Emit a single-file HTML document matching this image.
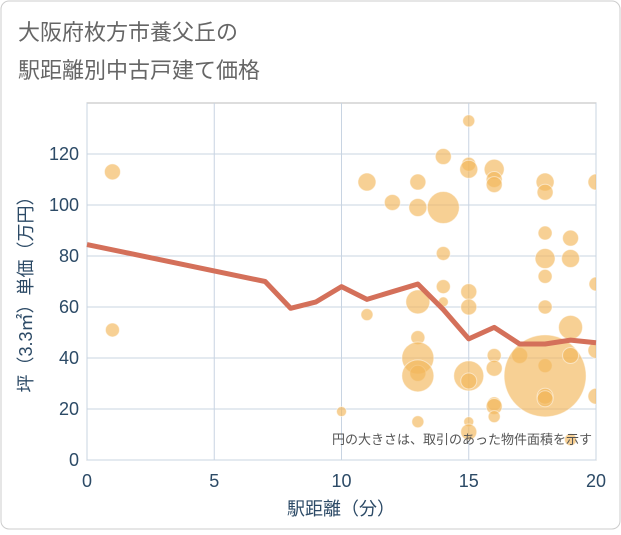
<!DOCTYPE html>
<html><head><meta charset="utf-8"><style>
body{margin:0;background:#fff;}
svg text{font-family:"Liberation Sans","Noto Sans CJK JP",sans-serif;}
</style></head><body>
<svg width="621" height="530" xmlns="http://www.w3.org/2000/svg">
<defs><clipPath id="pc"><rect x="87" y="103" width="509" height="357"/></clipPath></defs>
<rect x="1" y="1" width="619" height="528" rx="8" fill="#fff" stroke="#ccc"/>
<text x="18" y="40" font-size="22" fill="#666">大阪府枚方市養父丘の</text>
<text x="18" y="78" font-size="22" fill="#666">駅距離別中古戸建て価格</text>
<rect x="87" y="103" width="509" height="357" fill="#fff" stroke="#bbb"/>
<g id="grid"></g>
<g id="bubbles" clip-path="url(#pc)"></g>
<g id="line"></g>
<g id="axes"></g>
<text x="592" y="444" font-size="13" fill="#555" text-anchor="end">円の大きさは、取引のあった物件面積を示す</text>
<text x="341" y="515" font-size="18" fill="#2c4a66" text-anchor="middle">駅距離（分）</text>
<text transform="translate(32,290) rotate(-90)" font-size="18" fill="#2c4a66" text-anchor="middle">坪（3.3㎡）単価（万円）</text>
</svg>
<script>
const xTicks=[0,5,10,15,20];
const yTicks=[0,20,40,60,80,100,120];
const bubbleX=[1,1,10,11,11,12,13,13,13,13,13,13,13,13,14,14,14,14,14,15,15,15,15,15,15,15,15,15,16,16,16,16,16,16,16,16,17,18,18,18,18,18,18,18,18,18,18,19,19,19,19,19,20,20,20,20];
const bubbleY=[113,51,19,109,57,101,109,99,62,48,40,34,33,15,119,99,81,68,62,133,116,114,66,60,33,31,15,11,114,110,108,41,36,22,21,17,41,109,105,89,79,72,60,37,33,25,24,87,79,52,41,8,109,69,43,25];
const bubbleSize=[8,7,5,9,6,8,8,9,12,7,16,8,16,6,8,16,7,7,5,6,7,9,8,8,15,8,5,8,10,8,8,7,8,7,8,6,8,9,8,7,10,7,7,7,41,8,8,8,9,12,8,6,8,7,8,8];
const lineX=[0,7,8,9,10,11,12,13,14,15,16,17,18,19,20];
const lineY=[84.5,70,59.5,62,68,63,66,69,59,47.5,52,45.5,45.5,47,46];
const NS='http://www.w3.org/2000/svg';
const X0=87,X1=596,Y0=460,Y1=103;
function sx(v){return X0+(v-0)/20*(X1-X0);}
function sy(v){return Y0-v/140*(Y0-Y1);}
function mk(t,a,p){const e=document.createElementNS(NS,t);for(const k in a)e.setAttribute(k,a[k]);p.appendChild(e);return e;}
const grid=document.getElementById('grid'),axes=document.getElementById('axes');
xTicks.forEach(t=>{
 const l=mk('line',{x1:sx(t),x2:sx(t),y1:Y1,y2:Y0,stroke:'#c8d4e2'},grid);
 
 
 const tx=mk('text',{x:sx(t),y:487,'font-size':18,fill:'#2c4a66','text-anchor':'middle'},axes);
 tx.textContent=t;
 
 
});
yTicks.forEach(t=>{
 const l=mk('line',{x1:X0,x2:X1,y1:sy(t),y2:sy(t),stroke:'#c8d4e2'},grid);
 
 
 const tx=mk('text',{x:79,y:sy(t)+6,'font-size':18,fill:'#2c4a66','text-anchor':'end'},axes);
 tx.textContent=t;
 
 
});
const bg=document.getElementById('bubbles');
bubbleX.forEach((x,i)=>{
 const c=mk('circle',{cx:sx(x),cy:sy(bubbleY[i]),r:bubbleSize[i],fill:'#f2b75a','fill-opacity':0.65,stroke:'#fff','stroke-opacity':0.5},bg);
 
 
});
const p=mk('polyline',{points:lineX.map((x,i)=>sx(x)+','+sy(lineY[i])).join(' '),fill:'none',stroke:'#d4705a','stroke-width':5,'stroke-linejoin':'round'},document.getElementById('line'));


</script>
</body></html>
